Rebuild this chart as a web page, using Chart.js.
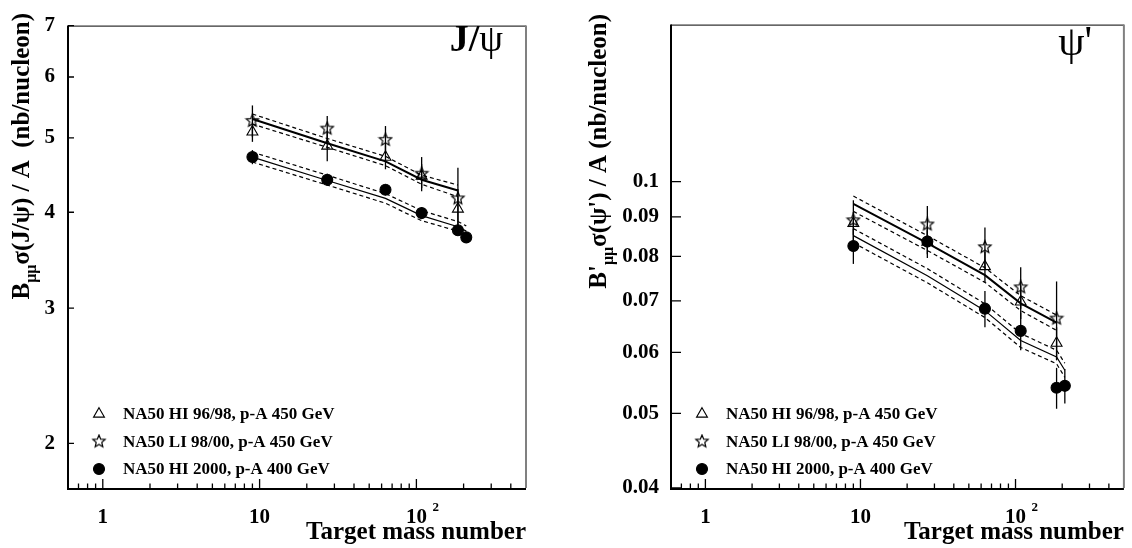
<!DOCTYPE html>
<html>
<head>
<meta charset="utf-8">
<script src="https://cdn.jsdelivr.net/npm/chart.js@4.4.0/dist/chart.umd.min.js"></script>
<style>
  html, body { margin: 0; padding: 0; background: #fff; }
  #wrap { position: relative; width: 1132px; height: 548px; }
  canvas { position: absolute; top: 0; }
  #jpsiChart { left: 0; }
  #psipChart { left: 566px; }
</style>
</head>
<body>
<div id="wrap">
  <canvas id="jpsiChart" width="566" height="548"></canvas>
  <canvas id="psipChart" width="566" height="548"></canvas>
</div>
<script>
const FONT = '"Liberation Serif", "Times New Roman", serif';

// target mass numbers (Be, Al, Cu, Ag, W, Pb)
const massHI9698 = [9, 27, 63.5, 108, 184];
const massLI9800 = [9, 27, 63.5, 108, 184];
const massHI2000 = [9, 27, 63.5, 108, 184, 208];

// x axis ticks
const xMajorTicks = [1, 10, 100];
const xMinorTicks = [0.7, 0.8, 0.9, 2, 3, 4, 5, 6, 7, 8, 9, 20, 30, 40, 50, 60, 70, 80, 90, 200, 300, 400];
const xTickLabels = ['1', '10', '10'];
const xTickExponents = ['', '', '2'];

// J/psi panel
const jpsiTicks = [2, 3, 4, 5, 6, 7];
const jpsiHI9698 = [5.09, 4.88, 4.72, 4.46, 4.04];
const jpsiHI9698Err = [0.15, 0.22, 0.17, 0.16, 0.25];
const jpsiLI9800 = [5.26, 5.14, 4.97, 4.49, 4.17];
const jpsiLI9800Err = [0.25, 0.2, 0.21, 0.23, 0.4];
const jpsiHI2000 = [4.72, 4.41, 4.28, 3.99, 3.79, 3.71];
const jpsiHI2000Err = [0.1, 0.08, 0.07, 0.07, 0.06, 0.06];
const jpsiFit450 = [5.29, 4.92, 4.66, 4.41, 4.27];
const jpsiFit450Hi = [5.37, 4.99, 4.73, 4.47, 4.34];
const jpsiFit450Lo = [5.21, 4.86, 4.60, 4.35, 4.19];
const jpsiFit400 = [4.72, 4.40, 4.17, 3.96, 3.83, 3.78];
const jpsiFit400Hi = [4.79, 4.47, 4.23, 4.02, 3.89, 3.84];
const jpsiFit400Lo = [4.65, 4.34, 4.11, 3.90, 3.78, 3.73];

// psi' panel
const psipTicks = [0.04, 0.05, 0.06, 0.07, 0.08, 0.09, 0.1];
const psipHI9698 = [0.0883, 0.0835, 0.0776, 0.0698, 0.0617];
const psipHI9698Err = [0.003, 0.003, 0.0035, 0.0035, 0.003];
const psipLI9800 = [0.0891, 0.0880, 0.0822, 0.0729, 0.0664];
const psipLI9800Err = [0.0055, 0.005, 0.005, 0.0045, 0.0078];
const psipHI2000 = [0.0825, 0.0836, 0.0684, 0.0640, 0.0540, 0.0543];
const psipHI2000Err = [0.0043, 0.004, 0.0037, 0.0036, 0.0033, 0.0028];
const psipFit450 = [0.0936, 0.0832, 0.0756, 0.0695, 0.0656];
const psipFit450Hi = [0.0958, 0.0851, 0.0773, 0.0711, 0.0671];
const psipFit450Lo = [0.0915, 0.0814, 0.0740, 0.0680, 0.0641];
const psipFit400 = [0.0851, 0.0755, 0.0680, 0.0622, 0.0592, 0.0569];
const psipFit400Hi = [0.0869, 0.0771, 0.0694, 0.0635, 0.0604, 0.0581];
const psipFit400Lo = [0.0833, 0.0739, 0.0666, 0.0609, 0.0580, 0.0557];

const labelHI9698 = 'NA50 HI 96/98, p-A 450 GeV';
const labelLI9800 = 'NA50 LI 98/00, p-A 450 GeV';
const labelHI2000 = 'NA50 HI 2000, p-A 400 GeV';


// open five-point star used as point style
function starImage(r) {
  const c = document.createElement('canvas');
  const s = Math.ceil(r * 2 + 3);
  c.width = c.height = s;
  const g = c.getContext('2d');
  g.beginPath();
  for (let k = 0; k < 10; k++) {
    const rr = k % 2 ? r * 0.45 : r;
    const a = -Math.PI / 2 + k * Math.PI / 5;
    g.lineTo(s / 2 + rr * Math.cos(a), s / 2 + rr * Math.sin(a));
  }
  g.closePath();
  g.lineWidth = 1.2;
  g.strokeStyle = '#000';
  g.stroke();
  return c;
}
const star = starImage(6.5);

const pts = (xs, ys) => xs.map((x, i) => ({x: x, y: ys[i]}));

function pointSet(label, xs, ys, errs, style) {
  return Object.assign({
    label: label,
    data: pts(xs, ys),
    errors: errs,
    showLine: false,
    pointBorderColor: '#000',
    pointBorderWidth: 1.1,
    order: 0
  }, style);
}

function lineSet(xs, ys, width, dash) {
  return {
    data: pts(xs, ys),
    showLine: true,
    pointRadius: 0,
    borderColor: '#000',
    borderWidth: width,
    borderDash: dash || [],
    fill: false,
    tension: 0,
    order: 1
  };
}

const triangleStyle = {pointStyle: 'triangle', pointRadius: 6.3, pointBackgroundColor: 'rgba(0,0,0,0)'};
const starStyle = {pointStyle: star, pointRadius: 7};
const circleStyle = {pointStyle: 'circle', pointRadius: 5.5, pointBackgroundColor: '#000'};


// vertical error bars
const errorBars = {
  id: 'errorBars',
  beforeDatasetsDraw(chart) {
    const {ctx, scales: {x, y}} = chart;
    ctx.save();
    ctx.strokeStyle = '#000';
    ctx.lineWidth = 1.3;
    chart.data.datasets.forEach(ds => {
      if (!ds.errors) return;
      ds.data.forEach((p, i) => {
        const px = x.getPixelForValue(p.x);
        ctx.beginPath();
        ctx.moveTo(px, y.getPixelForValue(p.y - ds.errors[i]));
        ctx.lineTo(px, y.getPixelForValue(p.y + ds.errors[i]));
        ctx.stroke();
      });
    });
    ctx.restore();
  }
};

// ROOT style frame with inward ticks, legend and titles
const decorations = {
  id: 'decorations',
  afterDraw(chart, args, opts) {
    const {ctx, chartArea: a, scales: {x, y}} = chart;
    ctx.save();

    // ticks
    ctx.strokeStyle = '#000';
    ctx.lineWidth = 1.3;
    ctx.beginPath();
    xMajorTicks.forEach(v => {
      const px = x.getPixelForValue(v);
      ctx.moveTo(px, a.bottom); ctx.lineTo(px, a.bottom - 9);
    });
    xMinorTicks.forEach(v => {
      const px = x.getPixelForValue(v);
      ctx.moveTo(px, a.bottom); ctx.lineTo(px, a.bottom - 4.5);
    });
    y.ticks.forEach(t => {
      const py = y.getPixelForValue(t.value);
      ctx.moveTo(a.left, py); ctx.lineTo(a.left + opts.yTickLen, py);
    });
    ctx.stroke();

    // exponents of the x tick labels
    ctx.fillStyle = '#000';
    ctx.font = 'bold 13px ' + FONT;
    ctx.textAlign = 'left';
    ctx.textBaseline = 'alphabetic';
    xMajorTicks.forEach((v, i) => {
      if (xTickExponents[i]) ctx.fillText(xTickExponents[i], x.getPixelForValue(v) + 16, a.bottom + 23);
    });

    // frame
    ctx.lineWidth = 1;
    ctx.beginPath();
    ctx.moveTo(a.left, a.top + 0.5); ctx.lineTo(a.right, a.top + 0.5);
    ctx.stroke();
    ctx.strokeStyle = '#808080';
    ctx.lineWidth = 2;
    ctx.beginPath();
    ctx.moveTo(a.right, a.top); ctx.lineTo(a.right, a.bottom);
    ctx.stroke();
    ctx.strokeStyle = '#000';
    ctx.beginPath();
    ctx.moveTo(a.left, a.top); ctx.lineTo(a.left, a.bottom + 1);
    ctx.lineTo(a.right, a.bottom + 1);
    ctx.stroke();

    // legend
    const rows = [74, 46.5, 19];
    const marks = chart.data.datasets.filter(ds => ds.errors);
    ctx.font = 'bold 17px ' + FONT;
    ctx.textBaseline = 'middle';
    ctx.textAlign = 'left';
    marks.forEach((ds, i) => {
      const mx = a.left + 31;
      const my = a.bottom - rows[i];
      ctx.fillStyle = ds.pointBackgroundColor || 'rgba(0,0,0,0)';
      ctx.strokeStyle = '#000';
      ctx.lineWidth = 1.1;
      Chart.helpers.drawPoint(ctx, {pointStyle: ds.pointStyle, radius: ds.pointRadius, rotation: 0, borderWidth: 1.1}, mx, my);
      ctx.fillStyle = '#000';
      ctx.fillText(ds.label, a.left + 55, my + 1);
    });

    // panel title
    let tx = opts.titleX;
    ctx.textAlign = 'right';
    ctx.textBaseline = 'alphabetic';
    for (let i = opts.title.length - 1; i >= 0; i--) {
      const p = opts.title[i];
      ctx.font = p.font;
      ctx.fillText(p.text, tx, opts.titleY);
      tx -= ctx.measureText(p.text).width;
    }

    // rotated y title
    ctx.translate(opts.yTitleX, opts.yTitleTop);
    ctx.rotate(-Math.PI / 2);
    let total = 0;
    opts.yTitle.forEach(p => { ctx.font = p.font; total += ctx.measureText(p.text).width; });
    let pos = -total;
    ctx.textAlign = 'left';
    opts.yTitle.forEach(p => {
      ctx.font = p.font;
      ctx.fillText(p.text, pos, p.dy || 0);
      pos += ctx.measureText(p.text).width;
    });
    ctx.restore();
  }
};

function scalesFor(yMin, yMax, yTicks, yWidth, yPad) {
  return {
    x: {
      type: 'logarithmic',
      min: 0.6,
      max: 500,
      grid: {display: false, drawTicks: false},
      border: {display: false},
      afterBuildTicks: s => { s.ticks = xMajorTicks.map(v => ({value: v})); },
      afterFit: s => { s.height = 60; },
      ticks: {
        autoSkip: false,
        maxRotation: 0,
        padding: 17,
        color: '#000',
        font: {family: FONT, size: 21, weight: 'bold'},
        callback: v => xTickLabels[xMajorTicks.indexOf(v)] || ''
      },
      title: {
        display: true,
        text: 'Target mass number',
        align: 'end',
        color: '#000',
        font: {family: FONT, size: 25, weight: 'bold'},
        padding: {top: 0, bottom: 0}
      }
    },
    y: {
      type: 'logarithmic',
      min: yMin,
      max: yMax,
      grid: {display: false, drawTicks: false},
      border: {display: false},
      afterBuildTicks: s => { s.ticks = yTicks.map(v => ({value: v})); },
      afterFit: s => { s.width = yWidth; },
      ticks: {
        autoSkip: false,
        padding: yPad,
        color: '#000',
        font: {family: FONT, size: 21, weight: 'bold'},
        callback: v => String(v)
      }
    }
  };
}


// J/psi PANEL
new Chart(document.getElementById('jpsiChart'), {
  type: 'scatter',
  data: {
    datasets: [
      pointSet(labelHI9698, massHI9698, jpsiHI9698, jpsiHI9698Err, triangleStyle),
      pointSet(labelLI9800, massLI9800, jpsiLI9800, jpsiLI9800Err, starStyle),
      pointSet(labelHI2000, massHI2000, jpsiHI2000, jpsiHI2000Err, circleStyle),
      lineSet(massHI9698, jpsiFit450, 2),
      lineSet(massHI9698, jpsiFit450Hi, 1.2, [4, 3]),
      lineSet(massHI9698, jpsiFit450Lo, 1.2, [4, 3]),
      lineSet(massHI2000, jpsiFit400, 1.2),
      lineSet(massHI2000, jpsiFit400Hi, 1.2, [4, 3]),
      lineSet(massHI2000, jpsiFit400Lo, 1.2, [4, 3])
    ]
  },
  options: {
    responsive: false,
    animation: false,
    events: [],
    layout: {padding: {top: 13, right: 40, left: 0, bottom: 0}},
    scales: scalesFor(1.75, 7, jpsiTicks, 68, 13),
    plugins: {
      legend: {display: false},
      tooltip: {enabled: false},
      decorations: {
        yTickLen: 6,
        titleX: 503,
        titleY: 51,
        title: [
          {text: 'J/', font: 'bold 38px ' + FONT},
          {text: 'ψ', font: '38px ' + FONT}
        ],
        yTitleX: 29,
        yTitleTop: 13,
        yTitle: [
          {text: 'B', font: 'bold 25px ' + FONT},
          {text: 'μμ', font: 'bold 16px ' + FONT, dy: 7},
          {text: 'σ(J/ψ) / A  (nb/nucleon)', font: 'bold 25px ' + FONT}
        ]
      }
    }
  },
  plugins: [errorBars, decorations]
});


// psi' PANEL
new Chart(document.getElementById('psipChart'), {
  type: 'scatter',
  data: {
    datasets: [
      pointSet(labelHI9698, massHI9698, psipHI9698, psipHI9698Err, triangleStyle),
      pointSet(labelLI9800, massLI9800, psipLI9800, psipLI9800Err, starStyle),
      pointSet(labelHI2000, massHI2000, psipHI2000, psipHI2000Err, circleStyle),
      lineSet(massHI9698, psipFit450, 2),
      lineSet(massHI9698, psipFit450Hi, 1.2, [4, 3]),
      lineSet(massHI9698, psipFit450Lo, 1.2, [4, 3]),
      lineSet(massHI2000, psipFit400, 1.2),
      lineSet(massHI2000, psipFit400Hi, 1.2, [4, 3]),
      lineSet(massHI2000, psipFit400Lo, 1.2, [4, 3])
    ]
  },
  options: {
    responsive: false,
    animation: false,
    events: [],
    layout: {padding: {top: 13, right: 4, left: 0, bottom: 0}},
    scales: scalesFor(0.04, 0.16, psipTicks, 105, 12),
    plugins: {
      legend: {display: false},
      tooltip: {enabled: false},
      decorations: {
        yTickLen: 10,
        titleX: 526,
        titleY: 55,
        title: [
          {text: 'ψ\'', font: '42px ' + FONT}
        ],
        yTitleX: 39.5,
        yTitleTop: 14,
        yTitle: [
          {text: 'B\'', font: 'bold 25px ' + FONT},
          {text: 'μμ', font: 'bold 16px ' + FONT, dy: 7},
          {text: 'σ(ψ\') / A (nb/nucleon)', font: 'bold 25px ' + FONT}
        ]
      }
    }
  },
  plugins: [errorBars, decorations]
});
</script>
</body>
</html>
